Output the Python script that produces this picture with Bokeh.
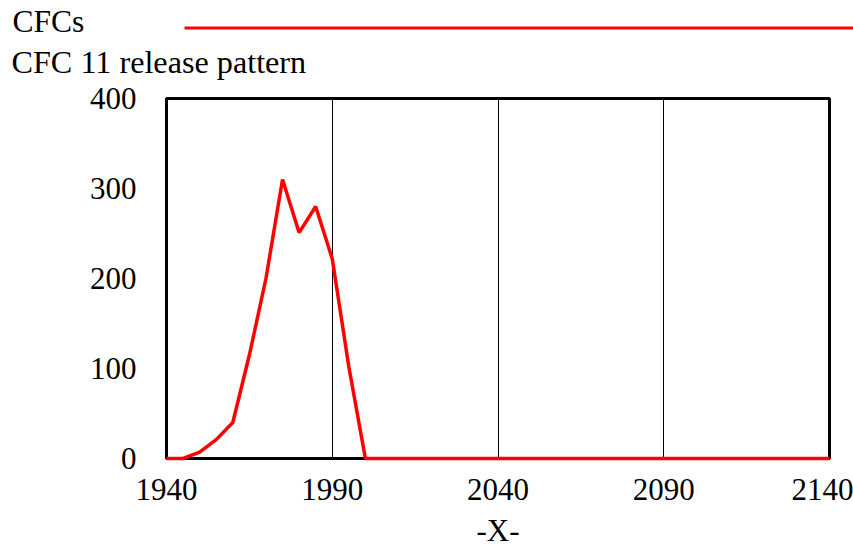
from bokeh.plotting import figure
from bokeh.models import Range1d, FixedTicker
from bokeh.core.properties import value
from bokeh.embed import file_html
from bokeh.resources import INLINE

years = [1940, 1945, 1950, 1955, 1960, 1965, 1970, 1975, 1980, 1985, 1990, 1995,
         2000, 2020, 2040, 2060, 2080, 2100, 2120, 2140]
release = [0, 0, 7, 21, 40, 115, 200, 310, 251, 280, 222, 102,
           0, 0, 0, 0, 0, 0, 0, 0]
x_ticks = [1940, 1990, 2040, 2090, 2140]
y_ticks = [0, 100, 200, 300, 400]
series_name = "CFCs"
subtitle = "CFC 11 release pattern"
x_label = "-X-"

FONT = "Liberation Serif"
W, H = 853, 550
HEAD = 82
RED = "#ff0000"

# header strip (title, series key line, subtitle) in pixel-like coordinates
head = figure(width=W, height=HEAD, output_backend="svg", toolbar_location=None,
              x_range=Range1d(0, W), y_range=Range1d(HEAD, 0),
              min_border=0, x_axis_location=None, y_axis_location=None)
head.outline_line_color = None
head.background_fill_color = "white"
head.border_fill_color = "white"
head.xgrid.visible = False
head.ygrid.visible = False
head.text(x=[12], y=[21], text=[series_name], text_font=value(FONT),
          text_font_size="31.5px", text_color="black", text_baseline="alphabetic")
head.text(x=[11], y=[61], text=[subtitle], text_font=value(FONT),
          text_font_size="32.2px", text_color="black", text_baseline="alphabetic")
head.line(x=[184, W], y=[27.5, 27.5], line_color=RED, line_width=3)

p = figure(width=W, height=H - HEAD, output_backend="svg", toolbar_location=None,
           x_range=Range1d(1940, 2140), y_range=Range1d(0, 400),
           min_border_left=166, min_border_right=24, min_border_top=98 - HEAD,
           min_border_bottom=91)
p.background_fill_color = "white"
p.border_fill_color = "white"
p.outline_line_color = "black"
p.outline_line_width = 3

p.line(years, release, line_color=RED, line_width=3.5, level="overlay")

for ax in (p.xaxis[0], p.yaxis[0]):
    ax.axis_line_color = None
    ax.major_tick_line_color = None
    ax.minor_tick_line_color = None
    ax.major_label_text_font = FONT
    ax.major_label_text_font_size = "31px"
    ax.major_label_text_color = "black"

p.xaxis.ticker = FixedTicker(ticks=x_ticks)
p.yaxis.ticker = FixedTicker(ticks=y_ticks)
p.xaxis.major_label_standoff = 14
p.yaxis.major_label_standoff = 24
p.xaxis.axis_label = x_label
p.xaxis.axis_label_text_font = FONT
p.xaxis.axis_label_text_font_size = "31px"
p.xaxis.axis_label_text_font_style = "normal"
p.xaxis.axis_label_text_color = "black"
p.xaxis.axis_label_standoff = 10

p.xgrid.ticker = FixedTicker(ticks=x_ticks[1:-1])
p.xgrid.grid_line_color = "black"
p.xgrid.grid_line_width = 1
p.ygrid.grid_line_color = None

open("out.html", "w").write(file_html([head, p], INLINE))
